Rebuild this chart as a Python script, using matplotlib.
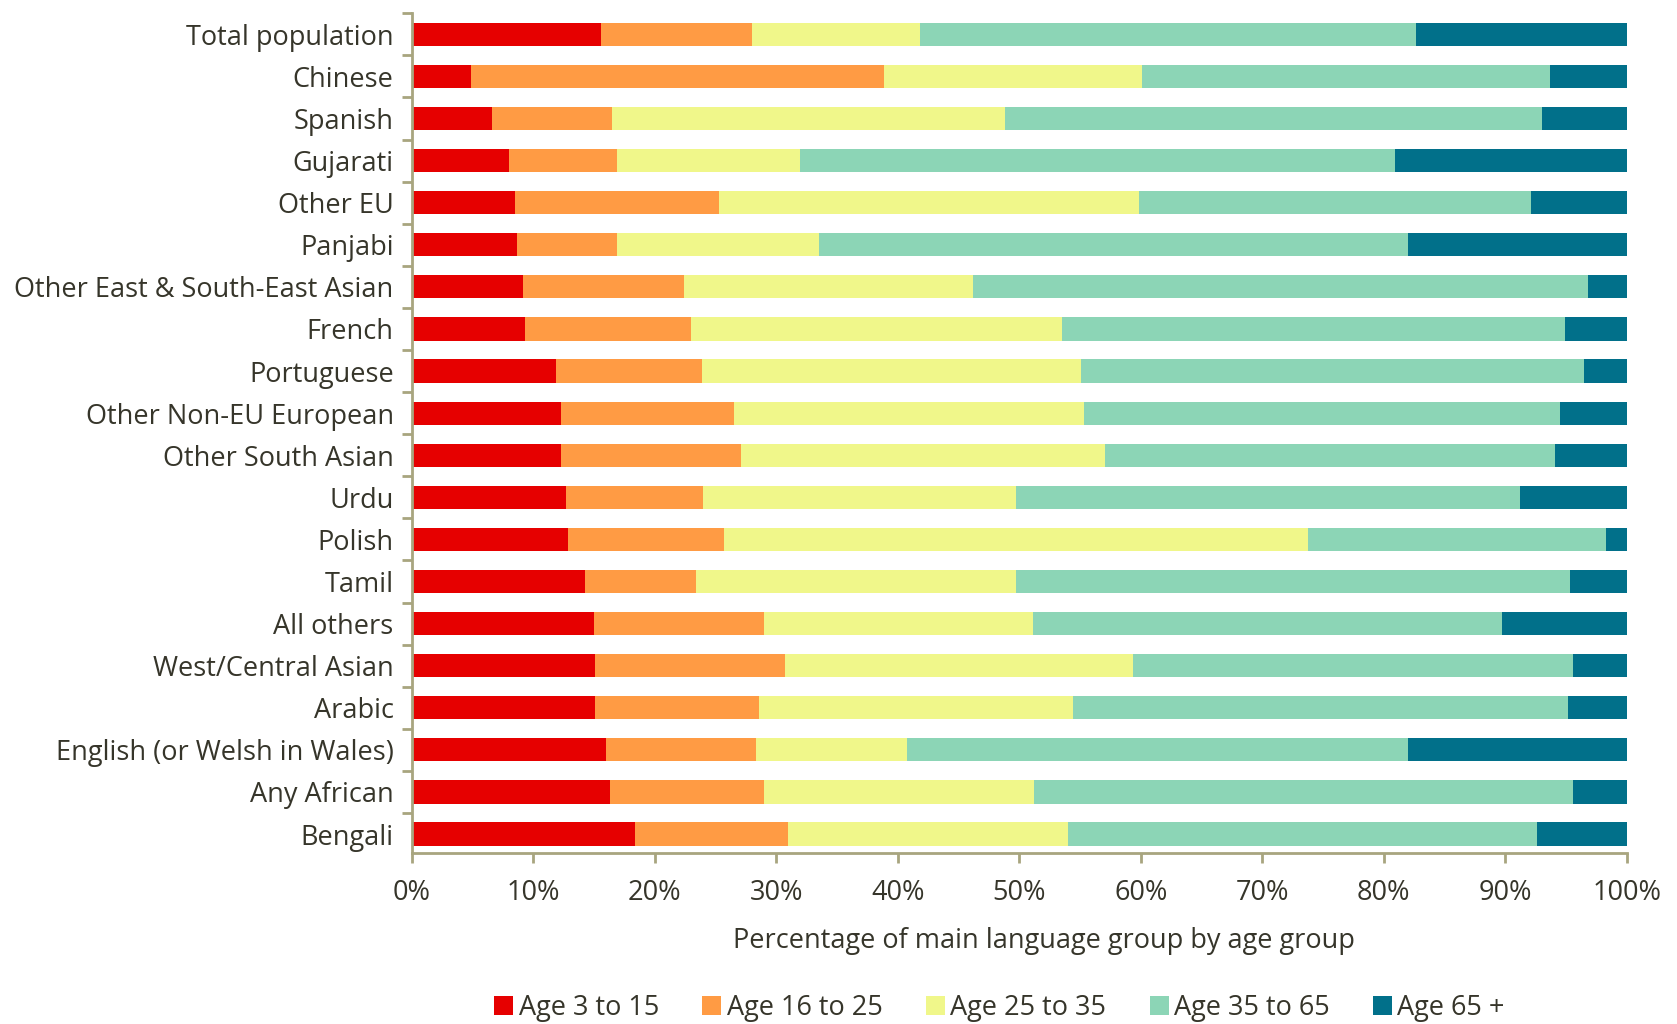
import numpy as np
import matplotlib.pyplot as plt
from matplotlib.ticker import FixedLocator

plt.rcParams['font.family'] = ['Open Sans', 'DejaVu Sans']

# language groups, top to bottom
languages = ['Total population', 'Chinese', 'Spanish', 'Gujarati', 'Other EU',
             'Panjabi', 'Other East & South-East Asian', 'French', 'Portuguese',
             'Other Non-EU European', 'Other South Asian', 'Urdu', 'Polish',
             'Tamil', 'All others', 'West/Central Asian', 'Arabic',
             'English (or Welsh in Wales)', 'Any African', 'Bengali']

# share (%) of each language group in each age group
age_3_15 = [15.6, 4.9, 6.6, 8.0, 8.5, 8.7, 9.2, 9.3, 11.9, 12.3,
            12.3, 12.7, 12.9, 14.3, 15.0, 15.1, 15.1, 16.0, 16.3, 18.4]
age_16_25 = [12.4, 34.0, 9.9, 8.9, 16.8, 8.2, 13.2, 13.7, 12.0, 14.2,
             14.8, 11.3, 12.8, 9.1, 14.0, 15.6, 13.5, 12.3, 12.7, 12.6]
age_25_35 = [13.8, 21.2, 32.3, 15.1, 34.6, 16.6, 23.8, 30.5, 31.2, 28.8,
             30.0, 25.7, 48.1, 26.3, 22.1, 28.7, 25.8, 12.5, 22.2, 23.0]
age_35_65 = [40.9, 33.6, 44.2, 48.9, 32.2, 48.5, 50.6, 41.4, 41.4, 39.2,
             37.0, 41.5, 24.5, 45.6, 38.6, 36.2, 40.8, 41.2, 44.4, 38.6]
age_65_up = [17.3, 6.3, 7.0, 19.1, 7.9, 18.0, 3.2, 5.1, 3.5, 5.5,
             5.9, 8.8, 1.7, 4.7, 10.3, 4.4, 4.8, 18.0, 4.4, 7.4]

series = [age_3_15, age_16_25, age_25_35, age_35_65, age_65_up]
series_names = ['Age 3 to 15', 'Age 16 to 25', 'Age 25 to 35', 'Age 35 to 65', 'Age 65 +']
colors = ['#e60000', '#ff9b44', '#f0f78a', '#8cd5b6', '#01708a']

text_col = '#36352a'
axis_col = '#a8a57f'
fs = 19.5

fig = plt.figure(figsize=(16.77, 10.24), dpi=100)
ax = fig.add_axes([0.2455, 0.167, 0.7245, 0.820])

y = np.arange(len(languages))
left = np.zeros(len(languages))
for vals, name, c in zip(series, series_names, colors):
    ax.barh(y, vals, left=left, height=0.55, color=c, label=name, edgecolor='none')
    left += np.array(vals)

ax.set_xlim(0, 100)
ax.set_ylim(19.45, -0.5)

ax.set_yticks(y)
ax.set_yticklabels(languages, fontsize=fs, color=text_col)
ax.tick_params(axis='y', which='major', length=0, pad=13)
ax.yaxis.set_minor_locator(FixedLocator(np.arange(-0.5, 20, 1)))
ax.tick_params(axis='y', which='minor', length=7, width=2, color=axis_col, direction='out')

ax.set_xticks(np.arange(0, 101, 10))
ax.set_xticklabels([f'{v}%' for v in range(0, 101, 10)], fontsize=fs, color=text_col)
ax.tick_params(axis='x', length=7, width=2, color=axis_col, direction='out', pad=12)

ax.set_xlabel('Percentage of main language group by age group', fontsize=fs, color=text_col)
ax.xaxis.set_label_coords(0.52, -0.088)

for s in ['top', 'right']:
    ax.spines[s].set_visible(False)
for s in ['left', 'bottom']:
    ax.spines[s].set_color(axis_col)
    ax.spines[s].set_linewidth(2)

leg = fig.legend(loc='center', bbox_to_anchor=(0.596, 0.016), ncol=5, frameon=False,
                 fontsize=fs, handlelength=0.7, handleheight=0.7, handletextpad=0.2,
                 columnspacing=1.6, labelcolor=text_col)

fig.savefig('out.png', dpi=100)
